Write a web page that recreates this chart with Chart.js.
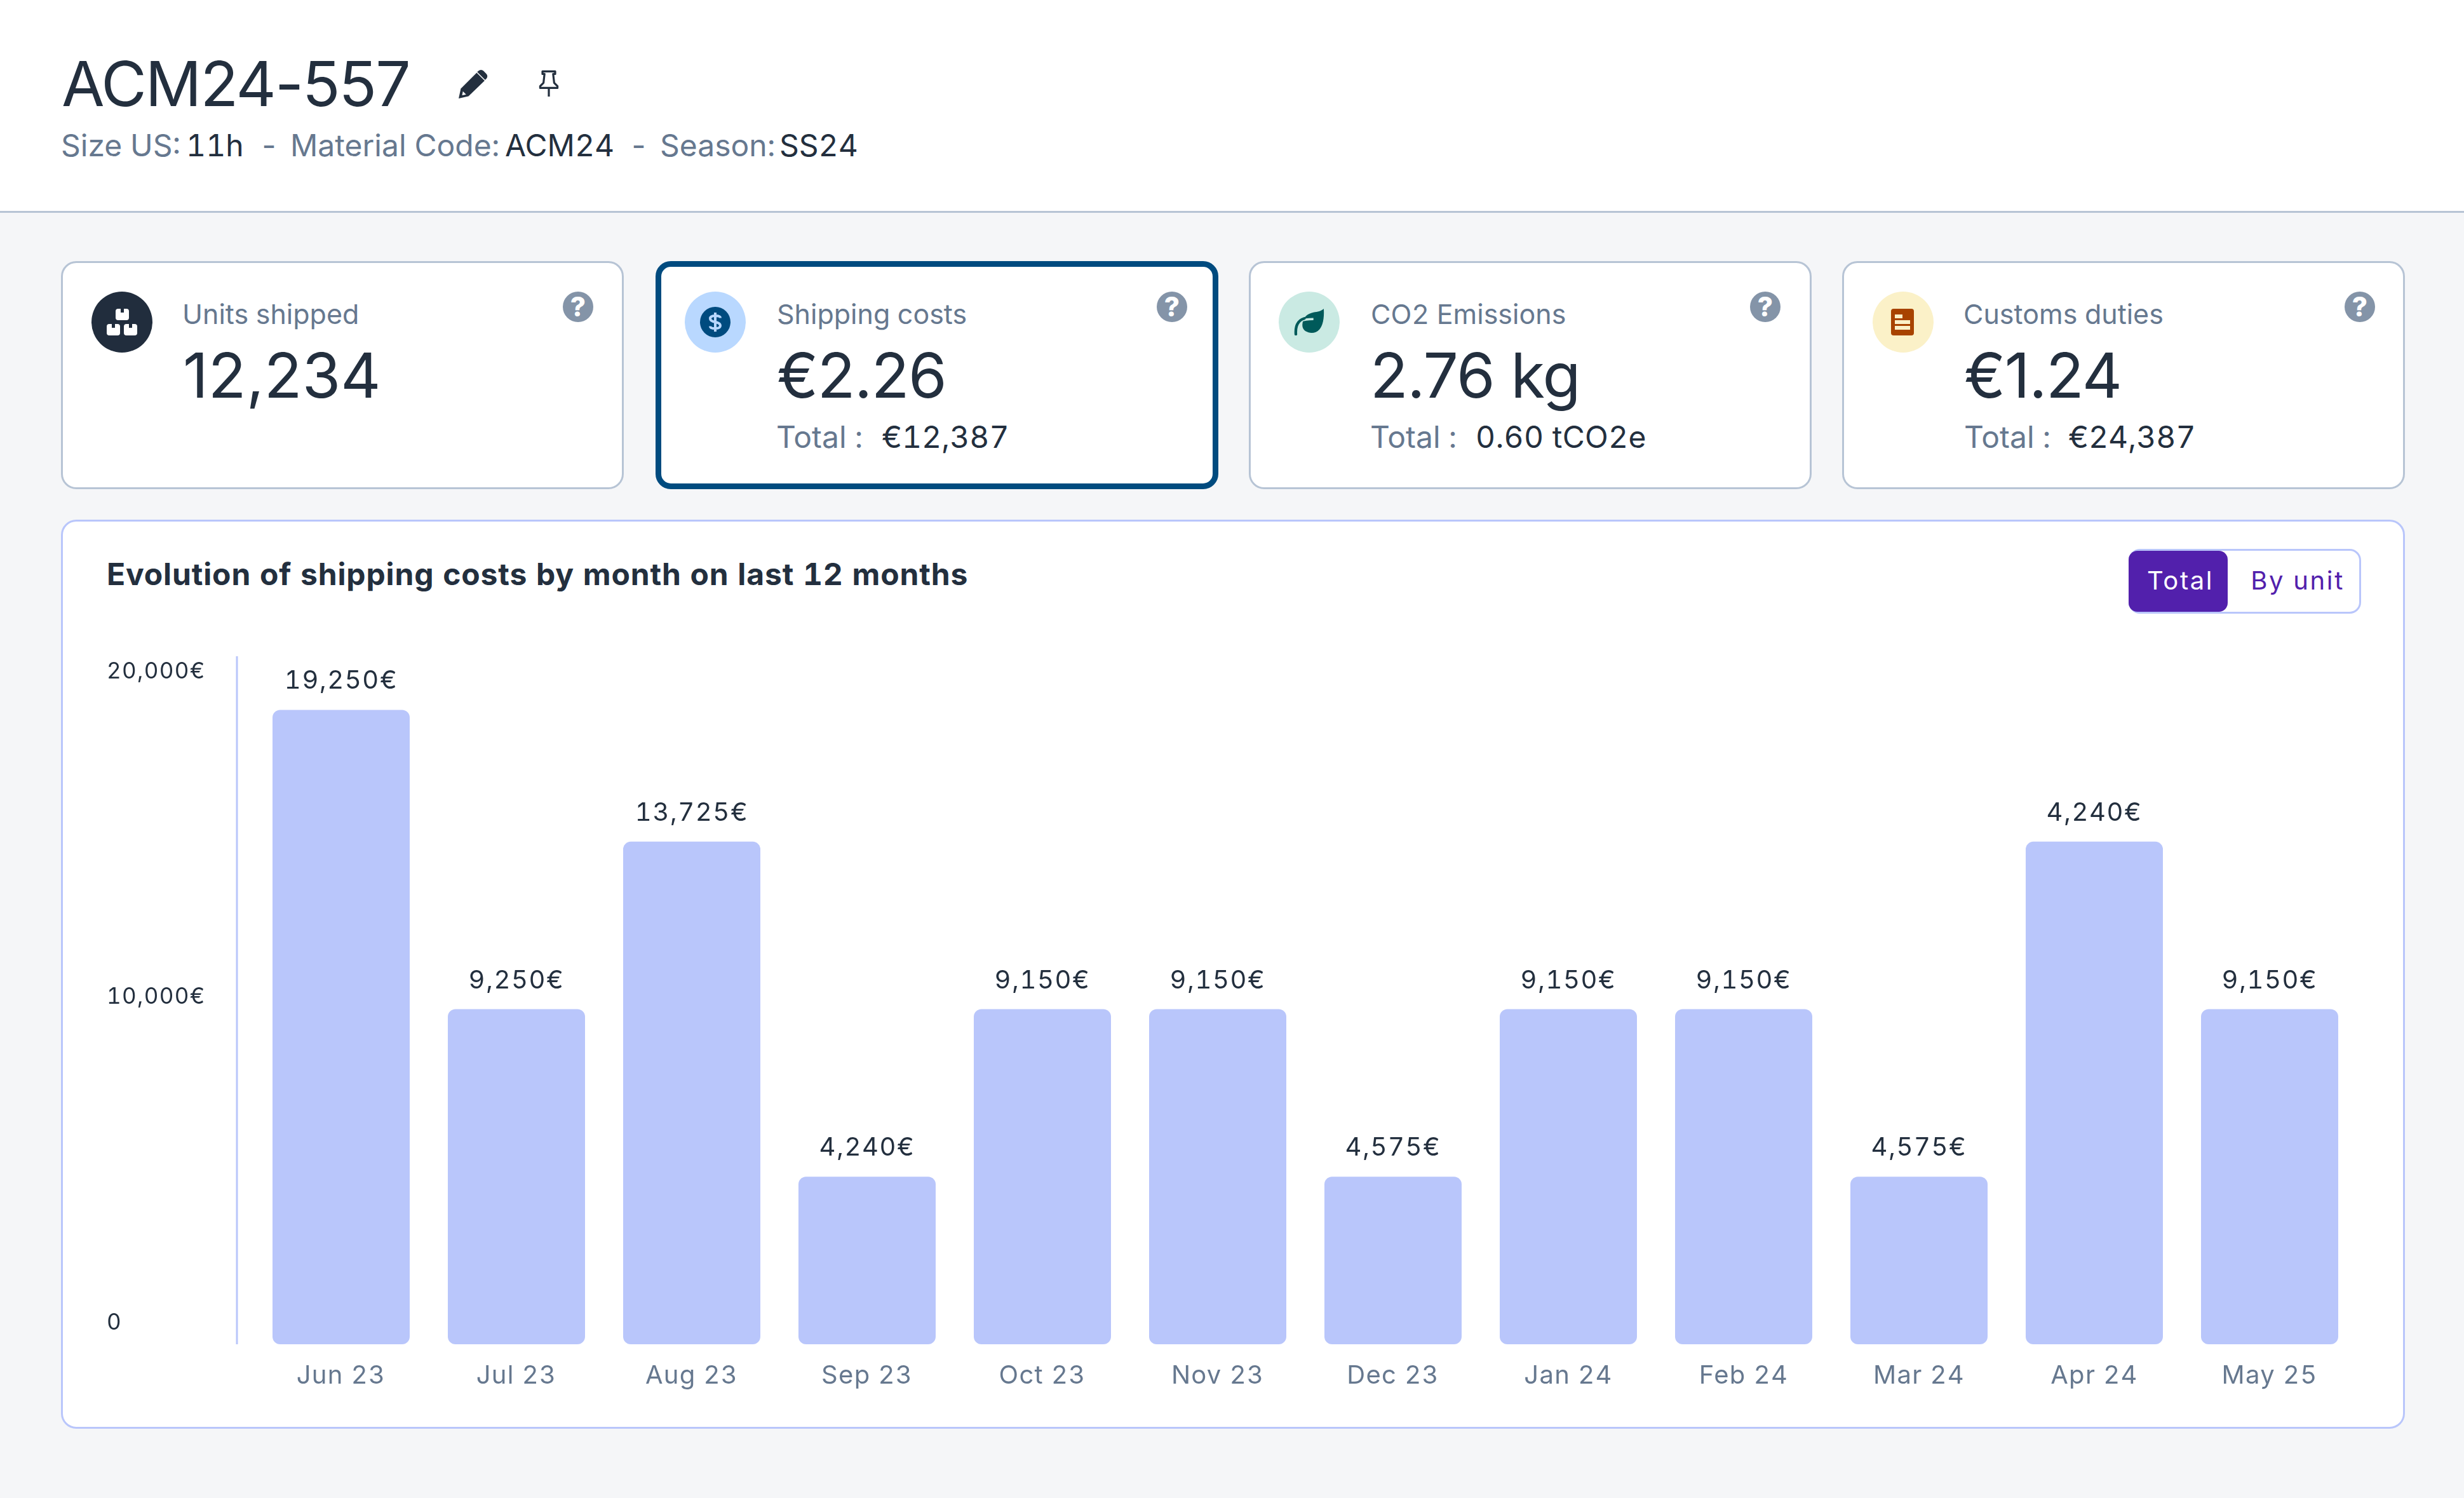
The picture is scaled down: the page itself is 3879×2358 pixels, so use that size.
<!DOCTYPE html>
<html>
<head>
<meta charset="utf-8">
<title>ACM24-557</title>
<script src="https://cdn.jsdelivr.net/npm/chart.js@4"></script>
<style>
html, body { margin: 0; padding: 0; }
body { width: 3879px; height: 2358px; background: #f5f6f8; overflow: hidden; position: relative; font-family: Inter, sans-serif; color: #232f3e; font-variant-numeric: tabular-nums; }
.t { position: absolute; line-height: 1; white-space: nowrap; }
.grey { color: #66788f; }
.big { letter-spacing: -1.5px; font-variant-numeric: normal; }
.topbar { position: absolute; left: 0; top: 0; width: 3879px; height: 332px; background: #fff; border-bottom: 3px solid #b7c4d5; }
.card { position: absolute; top: 411px; width: 886px; height: 359px; box-sizing: border-box; background: #fff; border: 3px solid #b7c4d5; border-radius: 24px; }
.card.on { border: 9px solid #004b7f; }
.panel { position: absolute; left: 96px; top: 818px; width: 3690px; height: 1431px; box-sizing: border-box; background: #fff; border: 3px solid #b9c6fb; border-radius: 24px; }
.toggle { position: absolute; left: 3351px; top: 864px; width: 366px; height: 102px; box-sizing: border-box; border: 3px solid #b9c6fb; border-radius: 18px; }
.pill { position: absolute; left: 3351px; top: 867px; width: 156px; height: 96px; background: #5220ac; border-radius: 14px; }
.dot { position: absolute; top: 459px; width: 96px; height: 96px; border-radius: 50%; }
.help { position: absolute; top: 459px; width: 48px; height: 48px; border-radius: 50%; background: #8494a8; color: #fff; font-weight: 800; font-size: 42px; line-height: 48px; text-align: center; }
svg { position: absolute; }
#chartWrap { position: absolute; left: 100px; top: 998px; width: 3680px; height: 1240px; }
#costChart { font-variant-numeric: tabular-nums; }
</style>
</head>
<body>
<div class="topbar"></div>
<div class="t big" style="left:97px;top:83px;font-size:98px;letter-spacing:-2px">ACM24-557</div>
<svg style="left:720px;top:107px" width="50" height="50" viewBox="0 0 24 24"><path fill="#232f3e" d="M1 23l1.6-7.4L14.6 3.6l6 6L8.4 21.4 1 23z"/><path fill="#232f3e" d="M16 2.2a2.6 2.6 0 0 1 3.7 0l2.2 2.2a2.6 2.6 0 0 1 0 3.7L21 9l-6-6z"/><path fill="#fff" d="M3.6 20.6l.6-3 2.4 2.4z"/></svg>
<svg style="left:846px;top:110px" width="36" height="44" viewBox="0 0 18 22"><path fill="none" stroke="#232f3e" stroke-width="1.6" stroke-linejoin="round" d="M4 1.2h10v2h-1.6l.8 7 2.6 2.6v1.4H2.2v-1.4l2.6-2.6.8-7H4z"/><path stroke="#232f3e" stroke-width="1.6" d="M9 14v7"/></svg>

<div class="t grey" style="left:96px;top:205px;font-size:48px">Size US:</div>
<div class="t" style="left:293px;top:205px;font-size:48px">11h</div>
<div class="t grey" style="left:408px;top:205px;font-size:48px">-</div>
<div class="t grey" style="left:457px;top:205px;font-size:48px">Material Code:</div>
<div class="t" style="left:795px;top:205px;font-size:48px">ACM24</div>
<div class="t grey" style="left:990px;top:205px;font-size:48px">-</div>
<div class="t grey" style="left:1039px;top:205px;font-size:48px">Season:</div>
<div class="t" style="left:1227px;top:205px;font-size:48px">SS24</div>

<div class="card" style="left:96px"></div>
<div class="dot" style="left:144px;background:#212d3d"></div>
<svg style="left:168px;top:486px" width="49" height="42" viewBox="0 0 49 42"><g fill="#fff"><rect x="14" y="0" width="21" height="18" rx="4"/><rect x="0" y="24" width="21" height="18" rx="4"/><rect x="27" y="24" width="21" height="18" rx="4"/></g><g fill="#212d3d"><rect x="22" y="0" width="5" height="6"/><rect x="8" y="24" width="5" height="6"/><rect x="35" y="24" width="5" height="6"/></g></svg>
<div class="t grey" style="left:287px;top:473px;font-size:43px">Units shipped</div>
<div class="t big" style="left:288px;top:542px;font-size:98px;letter-spacing:0">12,234</div>
<div class="help" style="left:886px">?</div>

<div class="card on" style="left:1032px"></div>
<div class="dot" style="left:1078px;background:#b9d8ff"></div>
<div class="dot" style="left:1102px;top:483px;width:48px;height:48px;background:#004b7f"></div>
<svg style="left:1114px;top:491px" width="24" height="32" viewBox="0 0 24 32"><path fill="none" stroke="#b9d8ff" stroke-width="4" d="M20 9.5c0-2.4-2-3.5-8-3.5S4 7.600 4 10.500s3 4.500 8 5.500 8 2.600 8 5.500-2 4.500-8 4.500-8-1.100-8-3.500M12 1v30"/></svg>
<div class="t grey" style="left:1223px;top:473px;font-size:43px">Shipping costs</div>
<div class="t big" style="left:1223px;top:542px;font-size:98px">€2.26</div>
<div class="t grey" style="left:1222px;top:664px;font-size:48px">Total :</div>
<div class="t" style="left:1388px;top:664px;font-size:48px">€12,387</div>
<div class="help" style="left:1821px">?</div>

<div class="card" style="left:1966px"></div>
<div class="dot" style="left:2013px;background:#caeae3"></div>
<svg style="left:2036px;top:486px" width="50" height="42" viewBox="0 0 50 44"><path fill="#005a5a" d="M49 0C50 14 48 27 42 34 36 41 26 41 19 37 15 34 13 30 14 24 15 14 22 8 32 6 39 5 45 4 49 0z"/><path fill="none" stroke="#caeae3" stroke-width="3.500" d="M12 20C18 17 24 17 32 17"/><path fill="none" stroke="#005a5a" stroke-width="4.500" stroke-linecap="round" d="M17 16C7 19 2 28 3 42"/></svg>
<div class="t grey" style="left:2158px;top:473px;font-size:43px">CO2 Emissions</div>
<div class="t big" style="left:2157px;top:542px;font-size:98px">2.76 kg</div>
<div class="t grey" style="left:2157px;top:664px;font-size:48px">Total :</div>
<div class="t" style="left:2323px;top:664px;font-size:48px;letter-spacing:.3px">0.60 tCO2e</div>
<div class="help" style="left:2755px">?</div>

<div class="card" style="left:2900px"></div>
<div class="dot" style="left:2948px;background:#fbf1c8"></div>
<svg style="left:2977px;top:486px" width="36" height="42" viewBox="0 0 36 42"><rect width="36" height="42" rx="4" fill="#a84300"/><g fill="#fbf1c8"><rect x="6" y="9" width="12" height="6"/><rect x="6" y="18" width="24" height="6"/><rect x="6" y="27" width="24" height="6"/></g></svg>
<div class="t grey" style="left:3091px;top:473px;font-size:43px">Customs duties</div>
<div class="t big" style="left:3092px;top:542px;font-size:98px">€1.24</div>
<div class="t grey" style="left:3092px;top:664px;font-size:48px">Total :</div>
<div class="t" style="left:3256px;top:664px;font-size:48px">€24,387</div>
<div class="help" style="left:3691px">?</div>

<div class="panel"></div>
<div class="t" style="left:168px;top:880px;font-size:48px;font-weight:700;letter-spacing:.87px">Evolution of shipping costs by month on last 12 months</div>
<div class="toggle"></div>
<div class="pill"></div>
<div class="t" style="left:3380px;top:894px;font-size:40px;width:100px;text-align:center;color:#fff;letter-spacing:2.6px">Total</div>
<div class="t" style="left:3537px;top:894px;font-size:40px;width:160px;text-align:center;color:#5220ac;letter-spacing:2.6px">By unit</div>

<div id="chartWrap"><canvas id="costChart"></canvas></div>

<script>
const months = ['Jun 23', 'Jul 23', 'Aug 23', 'Sep 23', 'Oct 23', 'Nov 23', 'Dec 23', 'Jan 24', 'Feb 24', 'Mar 24', 'Apr 24', 'May 25'];
// bar heights as read against the axis; the printed labels do not follow them in the picture
const barValues = [19500, 10300, 15450, 5150, 10300, 10300, 5150, 10300, 10300, 5150, 15450, 10300];
const barLabels = ['19,250€', '9,250€', '13,725€', '4,240€', '9,150€', '9,150€', '4,575€', '9,150€', '9,150€', '4,575€', '4,240€', '9,150€'];
const yTickValues = [0, 10000, 20000];
const yTickLabels = ['0', '10,000€', '20,000€'];

const DARK = '#232f3e';
const GREY = '#66788f';
const BAR_COLOR = '#b9c6fb';

// puts the printed value above each bar
const barLabelPlugin = {
    id: 'barLabels',
    afterDatasetsDraw(chart) {
        const ctx = chart.ctx;
        ctx.save();
        ctx.font = '40px Inter';
        ctx.letterSpacing = '1.6px';
        ctx.fillStyle = DARK;
        ctx.textAlign = 'center';
        ctx.textBaseline = 'alphabetic';
        chart.getDatasetMeta(0).data.forEach((bar, i) => {
            ctx.fillText(barLabels[i], bar.x, bar.y - 33);
        });
        ctx.restore();
    }
};

// the vertical axis line stands a little left of the first category
const axisLinePlugin = {
    id: 'axisLine',
    beforeDraw(chart) {
        // tick labels in the reference are tracked a little wider than the installed Inter
        chart.ctx.letterSpacing = '1.3px';
    },
    beforeDatasetsDraw(chart) {
        const { ctx, chartArea } = chart;
        const x = chartArea.left - 26;
        ctx.save();
        ctx.strokeStyle = BAR_COLOR;
        ctx.lineWidth = 3;
        ctx.beginPath();
        ctx.moveTo(x, chartArea.top);
        ctx.lineTo(x, chartArea.bottom);
        ctx.stroke();
        ctx.restore();
    }
};

new Chart(document.getElementById('costChart'), {
    type: 'bar',
    data: {
        labels: months,
        datasets: [{
            data: barValues,
            backgroundColor: BAR_COLOR,
            borderRadius: 12,
            borderSkipped: false,
            barPercentage: 0.7826,
            categoryPercentage: 1
        }]
    },
    options: {
        responsive: true,
        maintainAspectRatio: false,
        animation: false,
        devicePixelRatio: 1,
        layout: { padding: { left: 68, right: 69, top: 35, bottom: 0 } },
        plugins: { legend: { display: false }, tooltip: { enabled: false } },
        scales: {
            x: {
                grid: { display: false, drawTicks: false },
                border: { display: false },
                ticks: { color: GREY, font: { family: 'Inter', size: 40 }, padding: 26, maxRotation: 0, autoSkip: false },
                afterFit: scale => { scale.height = 122; }
            },
            y: {
                min: 0,
                max: 21150,
                grid: { display: false, drawTicks: false },
                border: { display: false },
                afterBuildTicks: scale => { scale.ticks = yTickValues.map(value => ({ value })); },
                ticks: {
                    color: DARK,
                    font: { family: 'Inter', size: 35 },
                    crossAlign: 'far',
                    labelOffset: -34,
                    callback: (value, index) => yTickLabels[index]
                },
                afterFit: scale => { scale.width = 231; }
            }
        }
    },
    plugins: [barLabelPlugin, axisLinePlugin]
});
</script>
</body>
</html>
